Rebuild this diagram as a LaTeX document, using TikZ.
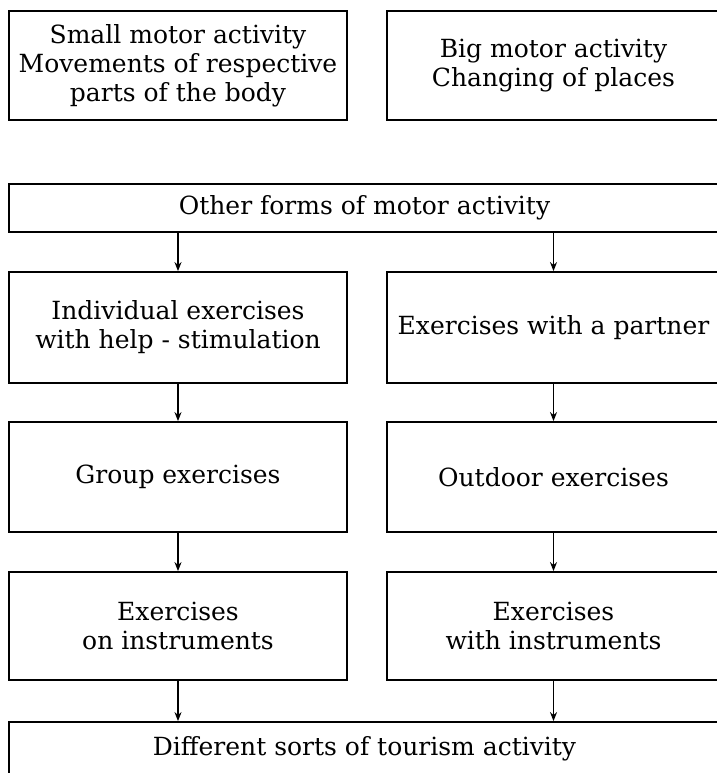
\documentclass[tikz,border=0pt]{standalone}
\usepackage{fontspec}
\setmainfont{DejaVu Serif}
\usetikzlibrary{positioning,arrows.meta}

\begin{document}
\begin{tikzpicture}[x=1pt,y=-1pt,->,>={Stealth[length=9pt,width=7pt]},line width=1.8pt,
    box node/.style={draw,rectangle,align=center,inner sep=0pt,font=\fontsize{25}{29}\selectfont},
    left box/.style={box node,minimum width=338pt,minimum height=#1},
    right box/.style={box node,minimum width=333pt,minimum height=#1},
    wide box/.style={box node,minimum width=711pt,minimum height=#1}]
    \useasboundingbox (0,0) rectangle (716,773);

    \node[left box=109pt] (small) at (178,65.5) {Small motor activity\\Movements of respective\\parts of the body};
    \node[right box=109pt] (big) at (553.5,65.5) {Big motor activity\\Changing of places};

    \node[wide box=48pt] (other) at (364.5,208) {Other forms of motor activity};

    \node[left box=111pt] (indiv) at (178,327.5) {Individual exercises\\with help - stimulation};
    \node[right box=111pt] (partner) at (553.5,327.5) {Exercises with a partner};

    \node[left box=110pt] (group) at (178,477) {Group exercises};
    \node[right box=110pt] (outdoor) at (553.5,477) {Outdoor exercises};

    \node[left box=108pt] (oninst) at (178,626) {Exercises\\on instruments};
    \node[right box=108pt] (withinst) at (553.5,626) {Exercises\\with instruments};

    \node[wide box=54pt] (tourism) at (364.5,749) {Different sorts of tourism activity};

    % arrows between the rows
    \draw (other.south -| indiv.north) -- (indiv.north);
    \draw (other.south -| partner.north) -- (partner.north);
    \draw (indiv.south) -- (group.north);
    \draw (partner.south) -- (outdoor.north);
    \draw (group.south) -- (oninst.north);
    \draw (outdoor.south) -- (withinst.north);
    \draw (oninst.south) -- (oninst.south |- tourism.north);
    \draw (withinst.south) -- (withinst.south |- tourism.north);

\end{tikzpicture}
\end{document}
